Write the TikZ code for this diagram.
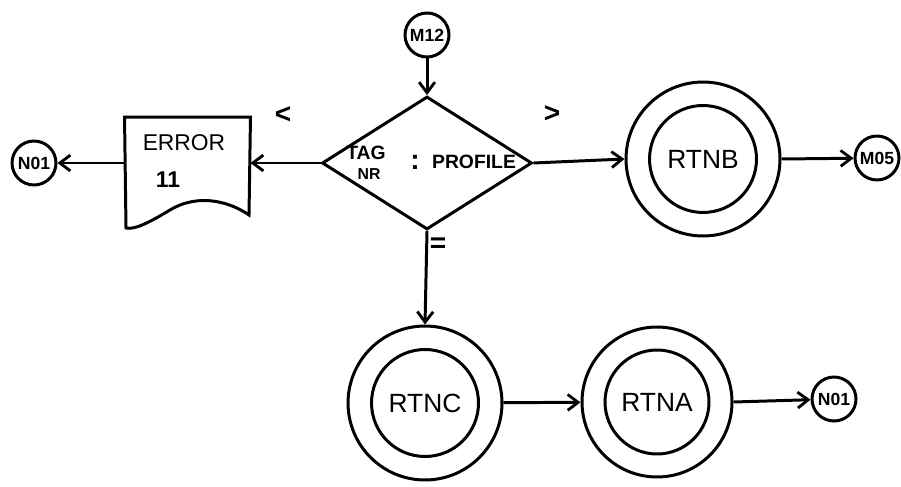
\documentclass[tikz,border=0pt]{standalone}
\usepackage{fontspec}
\setmainfont{Liberation Sans}
\usetikzlibrary{arrows.meta,shapes.geometric}

\begin{document}
\begin{tikzpicture}[x=0.02cm,y=-0.02cm,
  line width=1.7pt,
  conn/.style={draw, line width=1.7pt, -{Straight Barb[length=6pt,width=9pt,line width=1.6pt]}},
  offpage/.style={circle, draw, minimum size=0.88cm, inner sep=0pt, font=\fontsize{10}{12}\selectfont\bfseries},
  outerring/.style={circle, draw, minimum size=3.08cm, inner sep=0pt},
  innerring/.style={circle, draw, minimum size=2.14cm, inner sep=0pt, font=\fontsize{15}{18}\selectfont},
  decision/.style={diamond, draw, minimum width=4.2cm, minimum height=2.66cm, inner sep=0pt},
  note/.style={inner sep=0pt, font=\fontsize{11}{13}\selectfont\bfseries},
  relation/.style={inner sep=0pt, font=\fontsize{16}{18}\selectfont\bfseries}]

\useasboundingbox (0,0) rectangle (901,486);

% entry connector and the comparison
\node[offpage] (m12) at (427,35) {M12};
\node[decision] (cmp) at (427,163) {};
\node[note] (tag) at (366,153) {TAG};
\node[note, font=\fontsize{9}{11}\selectfont\bfseries] (nr) at (369,174) {NR};
\node[relation] (colon) at (415,162) {:};
\node[note] (profile) at (474,162) {PROFILE};

% branch marks
\node[relation] (lt) at (283,115) {<};
\node[relation] (gt) at (552,114) {>};
\node[relation] (eq) at (438,245) {=};

% error document
\node[minimum width=2.46cm, minimum height=1.9cm, inner sep=0pt] (err) at (187.5,166) {};
\draw (err.north west) -- (err.north east) -- (249,215)
  .. controls (232,203) and (200,192) .. (170,210)
  .. controls (150,222) and (135,230) .. (126,228) -- cycle;
\node[note, font=\fontsize{13}{15}\selectfont] (errtxt) at (184,143) {ERROR};
\node[note, font=\fontsize{13}{15}\selectfont\bfseries] (errno) at (168,180) {11};
\node[offpage] (n01a) at (34,163) {N01};

% routines
\node[outerring] (rtnb) at (703,159) {};
\node[innerring] (rtnbin) at (rtnb) {RTNB};
\node[offpage] (m05) at (877,158) {M05};

\node[outerring] (rtnc) at (425,403) {};
\node[innerring] (rtncin) at (rtnc) {RTNC};
\node[outerring, minimum size=3.0cm] (rtna) at (657,402) {};
\node[innerring, minimum size=2.08cm] (rtnain) at (rtna) {RTNA};
\node[offpage] (n01b) at (834,399) {N01};

% flow
\draw[conn] (m12) -- (cmp.north);
\draw[conn] (cmp.west) -- (cmp.west -| err.east);
\draw[conn] (err.west |- n01a) -- (n01a);
\draw[conn] (cmp.east) -- (rtnb.west);
\draw[conn] (rtnb.east) -- (m05);
\draw[conn] (cmp.south) -- (rtnc.north);
\draw[conn] (rtnc) -- (rtna);
\draw[conn] (rtna.east) -- (n01b);
\end{tikzpicture}
\end{document}
